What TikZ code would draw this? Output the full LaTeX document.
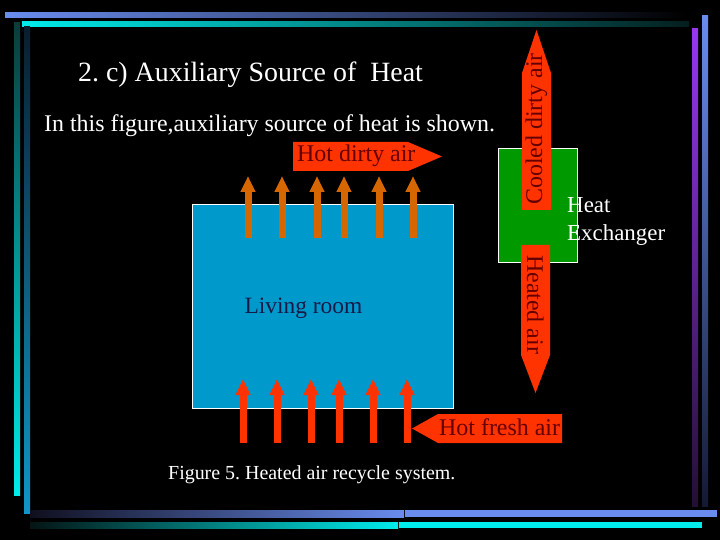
\documentclass[tikz,border=0pt]{standalone}
\usepackage{fontspec}
\setmainfont{Liberation Serif}
\usetikzlibrary{arrows.meta}
\definecolor{fire}{RGB}{255,51,0}
\definecolor{amber}{RGB}{214,102,0}
\definecolor{roomblue}{RGB}{0,153,204}
\definecolor{hxgreen}{RGB}{0,153,0}
\definecolor{ink}{RGB}{100,0,0}
\definecolor{navy}{RGB}{25,25,70}
\definecolor{barblue}{RGB}{105,140,238}
\definecolor{barcyan}{RGB}{0,235,235}
\definecolor{barteal}{RGB}{16,150,200}
\definecolor{barviolet}{RGB}{150,55,240}
\frenchspacing

\begin{document}
\begin{tikzpicture}[x=1bp,y=-1bp,>={Triangle[length=16bp,width=14bp]},
    txt/.style={inner sep=0,anchor=base west},
    tag/.style={txt,text=ink,font=\fontsize{24}{28}\selectfont}]
   \useasboundingbox (0,0) rectangle (720,540);
   \fill[black] (0,0) rectangle (720,540);

   % 枠の帯
   \shade[left color=barblue,right color=black] (5,13) rectangle (689,18);
   \shade[left color=barcyan,right color={rgb,255:red,5;green,30;blue,30}] (22,22) rectangle (689,27);
   \shade[top color={rgb,255:red,10;green,60;blue,60},bottom color=barcyan] (14,23) rectangle (20,495);
   \shade[top color={rgb,255:red,10;green,30;blue,45},bottom color=barteal] (24,27) rectangle (30,513);
   \shade[top color=barviolet,bottom color={rgb,255:red,35;green,15;blue,50}] (692,29) rectangle (698,506);
   \shade[top color=barblue,bottom color={rgb,255:red,20;green,25;blue,50}] (702,16) rectangle (708,506);
   \shade[left color={rgb,255:red,15;green,15;blue,30},right color=barblue] (30,510) rectangle (404,517);
   \fill[barblue] (405,510) rectangle (717,517);
   \shade[left color={rgb,255:red,5;green,20;blue,20},right color=barcyan] (30,522) rectangle (398,528);
   \fill[barcyan] (399,522) rectangle (702,528);

   % 見出し
   \node[txt,text=white,font=\fontsize{28}{34}\selectfont] (title) at (78,82) {2. c) Auxiliary Source of~ Heat};
   \node[txt,text=white,font=\fontsize{24}{28}\selectfont] (intro) at (44,132) {In this figure,auxiliary source of heat is shown.};

   % 部屋と熱交換器
   \fill[roomblue,draw=white,line width=0.8bp] (192,204) rectangle (453,408);
   \node[txt,anchor=base,text=navy,font=\fontsize{23.5}{28}\selectfont] (room) at (303.5,313) {Living room};
   \fill[hxgreen,draw=white,line width=0.8bp] (498,148) rectangle (577,262);
   \node[inner sep=0,anchor=north west,align=left,text=white,font=\fontsize{23}{28}\selectfont] (hx) at (567,197) {Heat\\Exchanger};

   % 小さい矢印
   \foreach \x in {248,282,317,344,379,413}
      \draw[->,amber,line width=7bp] (\x,238) -- (\x,176);
   \foreach \x in {243,277,311,339,373,407}
      \draw[->,fire,line width=7bp] (\x,443) -- (\x,379);

   % 空気の流れ
   \fill[fire] (293,142) -- (408,142) -- (442,156.5) -- (408,171) -- (293,171) -- cycle;
   \node[tag] (dirty) at (297,162) {Hot dirty air};
   \fill[fire] (522,210) -- (522,73) -- (536.5,30) -- (551,73) -- (551,210) -- cycle;
   \node[tag,rotate=90] (cooled) at (542,205) {Cooled dirty air};
   \fill[fire] (521,245) -- (550,245) -- (550,355) -- (535.5,393) -- (521,355) -- cycle;
   \node[tag,rotate=-90] (heated) at (527,255) {Heated air};
   \fill[fire] (562,414) -- (438,414) -- (412,428.5) -- (438,443) -- (562,443) -- cycle;
   \node[tag] (fresh) at (439,435) {Hot fresh air};

   \node[txt,text=white,font=\fontsize{20}{24}\selectfont] (caption) at (168,479) {Figure 5. Heated air recycle system.};
\end{tikzpicture}
\end{document}
